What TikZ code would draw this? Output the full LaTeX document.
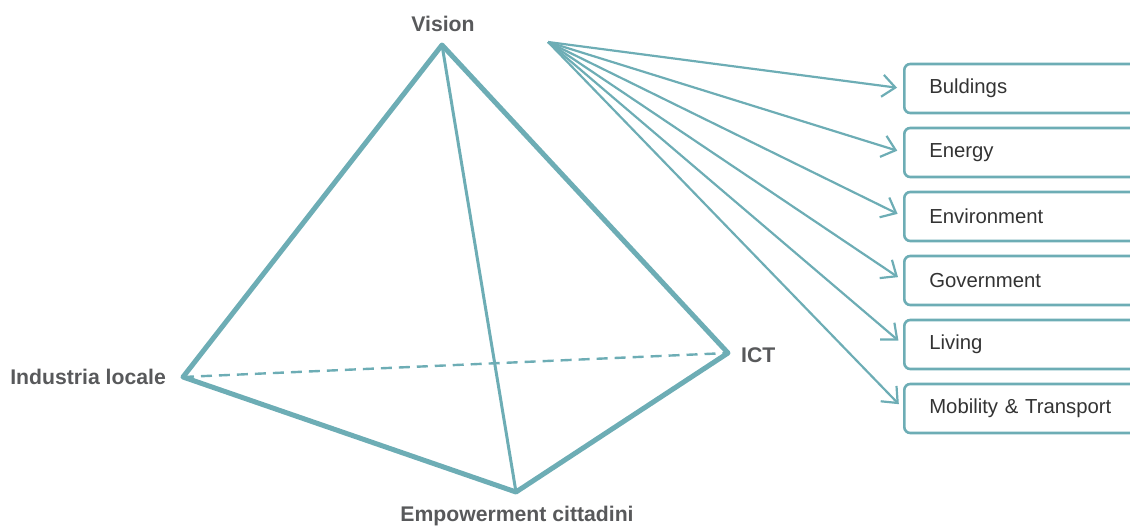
\documentclass[tikz,border=0pt]{standalone}
\usepackage{fontspec}
\setmainfont{Liberation Sans}
\usetikzlibrary{arrows.meta}

\definecolor{teal1}{HTML}{6DADB5}
\definecolor{labgrey}{HTML}{58595B}
\definecolor{boxtext}{HTML}{333333}

\tikzset{
	edge/.style={draw=teal1, line width=5pt, line join=round, line cap=round},
	inner edge/.style={draw=teal1, line width=3pt},
	hidden edge/.style={draw=teal1, line width=2.4pt, dash pattern=on 11pt off 7pt},
	vertex label/.style={font=\fontsize{21.2}{25}\selectfont\bfseries, text=labgrey, inner sep=0pt},
	area box/.style={draw=teal1, line width=2.6pt, rounded corners=6pt, anchor=west,
		minimum height=49pt, text width=210pt, inner xsep=25pt, align=left,
		font=\fontsize{20.3}{24}\selectfont, text=boxtext},
	area arrow/.style={draw=teal1, line width=2.2pt, -{Straight Barb[length=13pt,width=22pt,line width=2.2pt]}, shorten >=6pt}
}

\begin{document}
\begin{tikzpicture}[x=1pt, y=-1pt]
	\clip (0,0) rectangle (1130,525);
	\coordinate (apex) at (442,45);
	\coordinate (left) at (183,377);
	\coordinate (bottom) at (516,492);
	\coordinate (right) at (728,353);
	\coordinate (src) at (548,42);
	\path[hidden edge] (left) -- (right);
	\path[inner edge] (apex) -- (bottom);
	\path[edge] (apex) -- (left) -- (bottom) -- (right) -- cycle;
	\node[vertex label] (vision) at (443,24) {Vision};
	\node[vertex label, anchor=east] (industria) at (166,377) {Industria locale};
	\node[vertex label, anchor=west] (ict) at (741,355) {ICT};
	\node[vertex label] (empower) at (517,516) {Empowerment cittadini};
	\node[area box] (buildings) at (903,88.5) {Buldings};
	\node[area box] (energy) at (903,152.5) {Energy};
	\node[area box] (environment) at (903,216.5) {Environment};
	\node[area box] (government) at (903,280.5) {Government};
	\node[area box] (living) at (903,344.5) {Living};
	\node[area box] (mobility) at (903,408.5) {Mobility \& Transport};
	\foreach \b in {buildings,energy,environment,government,living,mobility}
		\draw[area arrow] (src) -- (\b.west);
\end{tikzpicture}
\end{document}
